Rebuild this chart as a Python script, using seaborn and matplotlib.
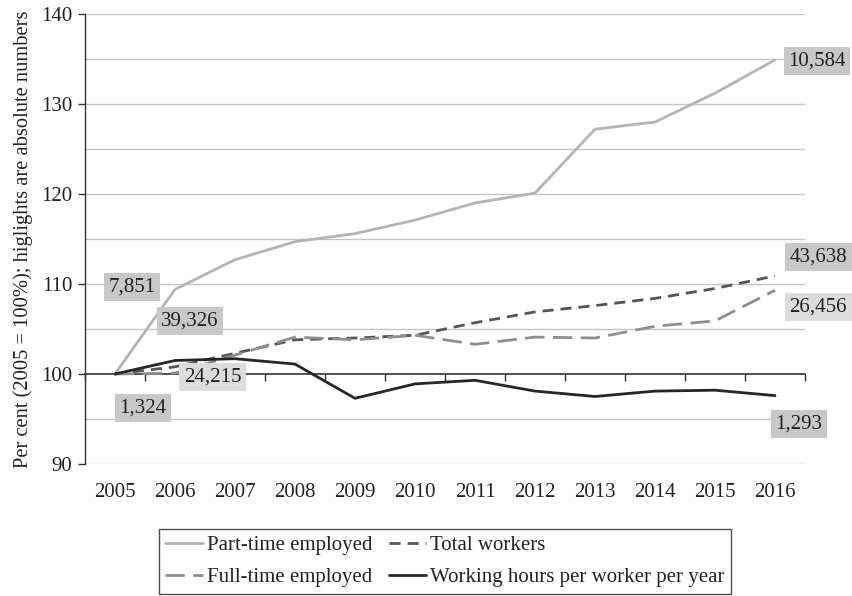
import matplotlib
matplotlib.use("Agg")
import matplotlib.pyplot as plt
import seaborn as sns
import pandas as pd

years = ["2005", "2006", "2007", "2008", "2009", "2010",
         "2011", "2012", "2013", "2014", "2015", "2016"]

part_time = [100.0, 109.4, 112.7, 114.7, 115.6, 117.1,
             119.0, 120.1, 127.2, 128.0, 131.2, 134.9]
total_workers = [100.0, 100.8, 102.3, 103.8, 104.0, 104.3,
                 105.7, 106.9, 107.6, 108.4, 109.5, 110.9]
full_time = [100.0, 100.1, 102.1, 104.1, 103.8, 104.3,
             103.3, 104.1, 104.0, 105.3, 105.9, 109.3]
hours = [100.0, 101.5, 101.7, 101.1, 97.3, 98.9,
         99.3, 98.1, 97.5, 98.1, 98.2, 97.6]

series_names = ["Part-time employed", "Total workers",
                "Full-time employed", "Working hours per worker per year"]

# absolute numbers for 2005 and 2016 shown in boxes
start_labels = ["7,851", "39,326", "24,215", "1,324"]
end_labels = ["10,584", "43,638", "26,456", "1,293"]

sns.set_theme(style="white")
plt.rcParams["font.family"] = ["Liberation Serif", "DejaVu Serif"]

df = pd.DataFrame({"pos": list(range(len(years))) * 4,
                   "value": part_time + total_workers + full_time + hours,
                   "series": sum([[n] * len(years) for n in series_names], [])})

fig = plt.figure(figsize=(8.52, 5.96), dpi=100)
ax = fig.add_axes([85 / 852, 1 - 464 / 596, 720 / 852, 450 / 596])

styles = {
    "Part-time employed": dict(color="#b4b4b4", lw=2.0, dashes=None),
    "Total workers": dict(color="#555555", lw=2.0, dashes=(4, 2.5)),
    "Full-time employed": dict(color="#8e8e8e", lw=2.0, dashes=(7, 3)),
    "Working hours per worker per year": dict(color="#262626", lw=2.0, dashes=None),
}

lines = {}
for name in series_names:
    st = styles[name]
    sub = df[df["series"] == name]
    sns.lineplot(data=sub, x="pos", y="value", ax=ax, color=st["color"],
                 linewidth=st["lw"], legend=False)
    ln = ax.get_lines()[-1]
    if st["dashes"] is not None:
        ln.set_dashes(st["dashes"])
    ln.set_zorder(3)
    lines[name] = ln

ax.set_xlim(-0.5, len(years) - 0.5)
ax.set_ylim(90, 140)
ax.set_yticks(range(90, 141, 10))
ax.set_xticks(range(len(years)))
ax.set_xticklabels(years)
ax.set_xlabel("")
ax.set_ylabel("Per cent (2005 = 100%); higlights are absolute numbers", fontsize=14.8,
              color="#222222", labelpad=6)

# horizontal grid at 5-point steps
for yv in range(90, 141, 5):
    if yv != 100:
        ax.axhline(yv, color="#c4c4c4", lw=1.0, zorder=1)

for s in ["top", "right", "bottom"]:
    ax.spines[s].set_visible(False)
ax.spines["left"].set_color("#333333")
ax.spines["left"].set_linewidth(1.0)

ax.tick_params(axis="y", which="major", direction="out", length=5, width=1,
               color="#333333", labelsize=15, labelcolor="#222222", left=True, pad=4)
ax.tick_params(axis="x", which="major", length=0, labelsize=15, labelcolor="#222222", pad=14)

# category axis through the 100 line with ticks between years
sec = ax.secondary_xaxis((100 - 90) / 50)
sec.spines["bottom"].set_color("#333333")
sec.spines["bottom"].set_linewidth(1.2)
sec.set_xticks([i - 0.5 for i in range(len(years) + 1)])
sec.set_xticklabels([])
sec.tick_params(axis="x", direction="out", length=5, width=1, color="#333333")

box_dark = dict(boxstyle="square,pad=0.22", fc="#c8c8c8", ec="none")
box_light = dict(boxstyle="square,pad=0.22", fc="#dcdcdc", ec="none")

label_specs = [
    (start_labels[0], 0.28, 109.7, box_dark),
    (start_labels[1], 1.25, 105.9, box_dark),
    (start_labels[2], 1.63, 99.7, box_light),
    (start_labels[3], 0.47, 96.2, box_dark),
    (end_labels[0], 11.7, 134.8, box_dark),
    (end_labels[1], 11.72, 113.0, box_dark),
    (end_labels[2], 11.72, 107.4, box_light),
    (end_labels[3], 11.4, 94.4, box_dark),
]
for txt, xv, yv, bb in label_specs:
    ax.text(xv, yv, txt, ha="center", va="center", fontsize=15, color="#222222",
            bbox=bb, zorder=5, clip_on=False)

# legend filled column by column: left column part-time / full-time
order = ["Part-time employed", "Full-time employed",
         "Total workers", "Working hours per worker per year"]
leg = fig.legend(handles=[lines[n] for n in order], labels=order,
                 loc="upper center", bbox_to_anchor=(445 / 852, 1 - 529 / 596), ncol=2,
                 fontsize=15, frameon=True, fancybox=False, edgecolor="#222222",
                 handlelength=1.8, handletextpad=0.2, columnspacing=0.8,
                 labelspacing=0.62, borderpad=0.3, borderaxespad=0)
leg.get_frame().set_linewidth(1.0)
for t in leg.get_texts():
    t.set_color("#222222")

fig.savefig("out.png", dpi=100)
